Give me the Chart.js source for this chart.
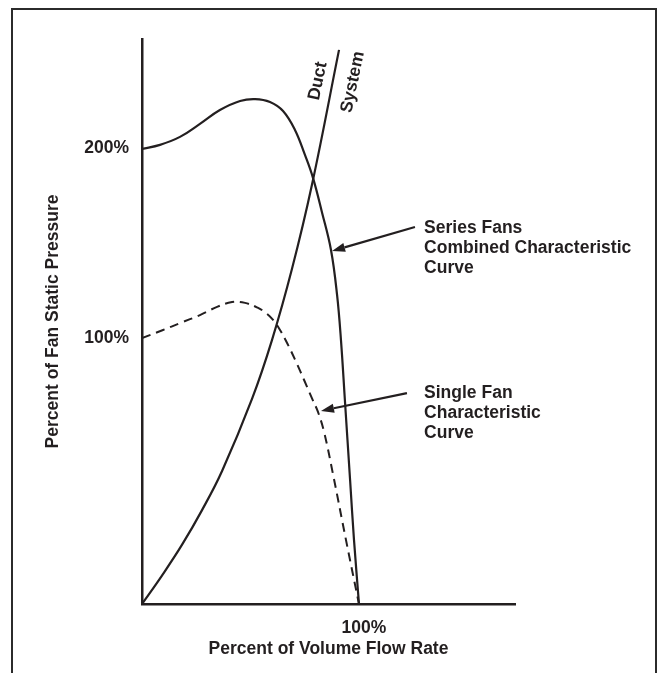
<!DOCTYPE html>
<html>
<head>
<meta charset="utf-8">
<script src="https://cdn.jsdelivr.net/npm/chart.js@4.4.1/dist/chart.umd.min.js"></script>
<style>
  body { margin: 0; background: #fff; }
  #wrap { position: relative; width: 658px; height: 673px; overflow: hidden; }
  #frame { position: absolute; left: 11px; top: 8px; width: 646px; height: 700px;
           box-sizing: border-box; border: 2px solid #2b2b2b; border-bottom: none; }
  #chart { position: absolute; left: 0; top: 0; }
</style>
</head>
<body>
<div id="wrap">
  <div id="frame"></div>
  <canvas id="chart" width="658" height="673"></canvas>
</div>
<script>
"use strict";

// flow rate (% of single fan) vs pressure
const seriesFlow = [0, 8.3, 17.5, 26.7, 35.9, 45.2, 52.1, 59.0, 65.0, 70.5, 75.1, 78.8, 82.9, 87.1, 89.9, 91.7, 93.5, 95.9, 97.7, 100];
const seriesPressure = [171.1, 172.6, 175.6, 180.5, 185.7, 189.1, 189.8, 188.7, 185.3, 178.2, 168.8, 160.2, 147.4, 133.1, 116.2, 99.2, 76.7, 46.6, 24.1, 0];

const singleFlow = [0, 9.7, 17.5, 26.7, 34.6, 41.5, 47.5, 53.5, 57.1, 60.4, 63.6, 67.3, 71.0, 74.7, 78.3, 81.1, 83.9, 88.0, 94.0, 100];
const singlePressure = [100, 103.0, 105.6, 108.6, 111.7, 113.5, 113.2, 111.3, 109.4, 106.8, 103.0, 97.4, 91.0, 84.2, 77.4, 72.2, 64.7, 48.9, 24.1, 0];

const ductFlow = [0, 9.2, 18.4, 27.6, 36.9, 50.7, 59.9, 69.1, 78.3, 90.8];
const ductPressure = [0, 10.7, 22.2, 35.2, 50.0, 77.1, 99.2, 125.9, 157.5, 208.3];

const xTickValues = [100];
const xTickLabels = ['100%'];
const yTickValues = [100, 171.4];
const yTickLabels = ['100%', '200%'];

const ink = '#231f20';
const fontFamily = '"Liberation Sans", Arial, Helvetica, sans-serif';

function toPoints(xs, ys) {
  return xs.map((x, i) => ({ x: x, y: ys[i] }));
}

const callouts = [
  { lines: ['Series Fans', 'Combined Characteristic', 'Curve'], textX: 130, textY: 141.4,
    from: [125.8, 141.7], to: [87.6, 132.7] },
  { lines: ['Single Fan', 'Characteristic', 'Curve'], textX: 130, textY: 79.3,
    from: [122.1, 79.3], to: [82.5, 72.6] }
];
const curveTags = [
  { text: 'Duct', x: 81.1, y: 196.6 },
  { text: 'System', x: 97.2, y: 196.2 }
];

const annotate = {
  id: 'annotate',
  afterDatasetsDraw(chart) {
    const { ctx, scales: { x, y } } = chart;
    ctx.save();
    ctx.fillStyle = ink;
    ctx.strokeStyle = ink;
    ctx.font = 'bold 17.5px ' + fontFamily;

    callouts.forEach(c => {
      const x0 = x.getPixelForValue(c.from[0]), y0 = y.getPixelForValue(c.from[1]);
      const x1 = x.getPixelForValue(c.to[0]), y1 = y.getPixelForValue(c.to[1]);
      const ang = Math.atan2(y1 - y0, x1 - x0);
      const headLen = 13, headW = 4.5;
      const bx = x1 - Math.cos(ang) * headLen, by = y1 - Math.sin(ang) * headLen;
      ctx.lineWidth = 2.2;
      ctx.beginPath();
      ctx.moveTo(x0, y0);
      ctx.lineTo(bx, by);
      ctx.stroke();
      ctx.beginPath();
      ctx.moveTo(x1, y1);
      ctx.lineTo(bx - Math.sin(ang) * headW, by + Math.cos(ang) * headW);
      ctx.lineTo(bx + Math.sin(ang) * headW, by - Math.cos(ang) * headW);
      ctx.closePath();
      ctx.fill();

      ctx.textAlign = 'left';
      ctx.textBaseline = 'middle';
      const tx = x.getPixelForValue(c.textX), ty = y.getPixelForValue(c.textY);
      c.lines.forEach((line, i) => ctx.fillText(line, tx, ty + i * 20));
    });

    curveTags.forEach(t => {
      ctx.save();
      ctx.translate(x.getPixelForValue(t.x), y.getPixelForValue(t.y));
      ctx.rotate(-78 * Math.PI / 180);
      ctx.textAlign = 'center';
      ctx.textBaseline = 'middle';
      ctx.fillText(t.text, 0, 0);
      ctx.restore();
    });
    ctx.restore();
  }
};

const lineStyle = {
  borderColor: ink,
  borderWidth: 2.2,
  pointRadius: 0,
  showLine: true,
  fill: false,
  tension: 0.4
};

new Chart(document.getElementById('chart'), {
  type: 'scatter',
  data: {
    datasets: [
      Object.assign({ label: 'Series Fans', data: toPoints(seriesFlow, seriesPressure) }, lineStyle),
      Object.assign({ label: 'Single Fan', data: toPoints(singleFlow, singlePressure) }, lineStyle, { borderDash: [9, 6], borderWidth: 2 }),
      Object.assign({ label: 'Duct System', data: toPoints(ductFlow, ductPressure) }, lineStyle)
    ]
  },
  options: {
    responsive: false,
    animation: false,
    layout: { padding: { top: 39, right: 143, left: 0, bottom: 0 } },
    plugins: { legend: { display: false }, tooltip: { enabled: false } },
    scales: {
      x: {
        type: 'linear',
        min: 0,
        max: 171.9,
        grid: { display: false, drawTicks: false },
        border: { display: true, color: ink, width: 2.5 },
        afterBuildTicks: s => { s.ticks = xTickValues.map(v => ({ value: v })); },
        afterFit: s => { s.height = 69; },
        ticks: {
          color: ink,
          padding: 14,
          labelOffset: 5,
          font: { family: fontFamily, size: 17.5, weight: 'bold' },
          callback: (v) => xTickLabels[xTickValues.indexOf(v)]
        },
        title: {
          display: true,
          text: 'Percent of Volume Flow Rate',
          color: ink,
          padding: { top: 0, bottom: 13.5 },
          font: { family: fontFamily, size: 17.5, weight: 'bold', lineHeight: 1.2 }
        }
      },
      y: {
        type: 'linear',
        min: 0,
        max: 212.4,
        grid: { display: false, drawTicks: false },
        border: { display: true, color: ink, width: 2.5 },
        afterBuildTicks: s => { s.ticks = yTickValues.map(v => ({ value: v })); },
        afterFit: s => { s.width = 142; },
        ticks: {
          color: ink,
          padding: 13,
          font: { family: fontFamily, size: 17.5, weight: 'bold' },
          callback: (v) => yTickLabels[yTickValues.indexOf(v)]
        },
        title: {
          display: true,
          text: 'Percent of Fan Static Pressure',
          color: ink,
          padding: { top: 42.5, bottom: 0 },
          font: { family: fontFamily, size: 17.5, weight: 'bold', lineHeight: 1.2 }
        }
      }
    }
  },
  plugins: [annotate]
});
</script>
</body>
</html>
